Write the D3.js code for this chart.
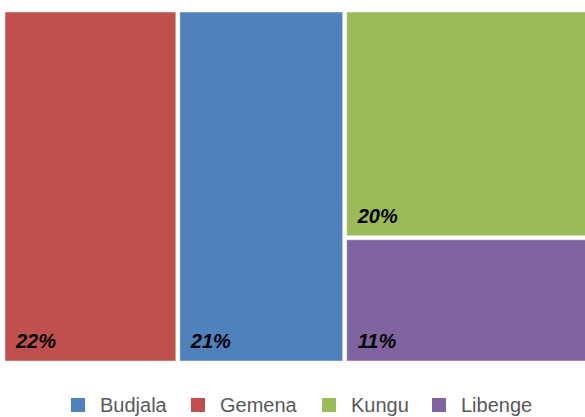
<!DOCTYPE html>
<html lang="en">
<head>
    <meta charset="UTF-8">
    <title>Treemap</title>
    <script src="https://d3js.org/d3.v7.min.js"></script>
    <style>
        body { margin: 0; background: #fff; }
        svg { display: block; font-family: "Liberation Sans", Arial, sans-serif; }
    </style>
</head>
<body>
    <svg id="chart" width="585" height="417"></svg>
    <script>
        // data
        const categories = ['Gemena', 'Budjala', 'Kungu', 'Libenge'];
        const values = [22, 21, 20, 11];
        const stacked = ['Kungu', 'Libenge'];   // these two share the last column
        const legendOrder = ['Budjala', 'Gemena', 'Kungu', 'Libenge'];
        const colors = { Budjala: '#4F81BD', Gemena: '#C0504D', Kungu: '#9BBB59', Libenge: '#8064A2' };

        const svg = d3.select('#chart');
        const area = { x0: 5, y0: 12, x1: 589, y1: 361 };

        const leaves = categories.map((c, i) => ({ name: c, value: values[i] }));
        const rootData = {
            name: 'root',
            children: [
                ...leaves.filter(d => !stacked.includes(d.name)),
                { name: 'group', children: leaves.filter(d => stacked.includes(d.name)) }
            ]
        };

        const root = d3.hierarchy(rootData).sum(d => d.value || 0);
        d3.treemap()
            .tile(d3.treemapSliceDice)
            .size([area.x1 - area.x0, area.y1 - area.y0])
            .paddingInner(4)
            .round(false)(root);

        const g = svg.append('g').attr('transform', `translate(${area.x0},${area.y0})`);
        const cell = g.selectAll('g.cell')
            .data(root.leaves())
            .enter()
            .append('g')
            .attr('class', 'cell');

        cell.append('rect')
            .attr('x', d => d.x0)
            .attr('y', d => d.y0)
            .attr('width', d => d.x1 - d.x0)
            .attr('height', d => d.y1 - d.y0)
            .attr('fill', d => colors[d.data.name])
            .attr('stroke', 'rgba(255,255,255,0.45)')
            .attr('stroke-width', 1);

        cell.append('text')
            .attr('x', d => d.x0 + 11)
            .attr('y', d => d.y1 - 13)
            .attr('font-size', 20)
            .attr('font-weight', 'bold')
            .attr('font-style', 'italic')
            .attr('fill', '#000')
            .text(d => d.data.value + '%');

        // legend
        const legendPos = [71, 191, 322, 432];
        const lg = svg.append('g').selectAll('g')
            .data(legendOrder)
            .enter()
            .append('g')
            .attr('transform', (d, i) => `translate(${legendPos[i]},398)`);
        lg.append('rect')
            .attr('width', 14)
            .attr('height', 14)
            .attr('fill', d => colors[d]);
        lg.append('text')
            .attr('x', 29)
            .attr('y', 14)
            .attr('font-size', 20)
            .attr('fill', '#595959')
            .text(d => d);
    </script>
</body>
</html>
